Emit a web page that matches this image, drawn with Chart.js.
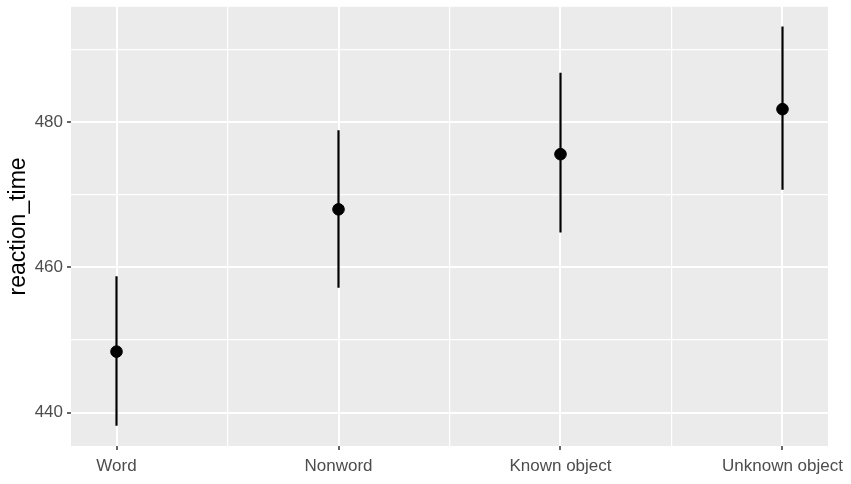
<!DOCTYPE html>
<html>
<head>
<meta charset="utf-8">
<script src="https://cdn.jsdelivr.net/npm/chart.js@4.4.1/dist/chart.umd.min.js"></script>
<style>
  html, body { margin: 0; padding: 0; background: #fff; }
  #wrap { width: 851px; height: 484px; }
</style>
</head>
<body>
<div id="wrap"><canvas id="rtChart" width="851" height="484"></canvas></div>
<script>
// data
const categories = ['Word', 'Nonword', 'Known object', 'Unknown object'];
const meanRT = [448.4, 468.0, 475.6, 481.8];
const lowerRT = [438.2, 457.2, 464.8, 470.7];
const upperRT = [458.8, 478.9, 486.8, 493.2];
const yTicks = [440, 450, 460, 470, 480, 490];
const yLabelled = [440, 460, 480];

const fontFam = "Arial, 'Liberation Sans', sans-serif";

// grey ggplot panel
const panelBg = {
    id: 'panelBg',
    beforeDraw(chart) {
        const a = chart.chartArea;
        const c = chart.ctx;
        c.save();
        c.fillStyle = '#EBEBEB';
        c.fillRect(a.left, a.top, a.right - a.left, a.bottom - a.top);
        c.restore();
    }
};

// one little line dataset per error bar
let barSets = categories.map((cat, i) => ({
    type: 'line',
    label: cat + ' range',
    data: [{x: i, y: lowerRT[i]}, {x: i, y: upperRT[i]}],
    borderColor: '#000',
    borderWidth: 2.2,
    pointRadius: 0,
    order: 2
}));

let pointSet = {
    type: 'scatter',
    label: 'mean',
    data: categories.map((cat, i) => ({x: i, y: meanRT[i]})),
    backgroundColor: '#000',
    borderColor: '#000',
    pointRadius: 5.8,
    order: 1
};

let ctx = document.getElementById('rtChart').getContext('2d');
let rtChart = new Chart(ctx, {
    type: 'scatter',
    data: { datasets: [pointSet, ...barSets] },
    plugins: [panelBg],
    options: {
        responsive: false,
        animation: false,
        layout: { padding: { left: 0, top: 6, right: 23, bottom: 0 } },
        plugins: {
            legend: { display: false },
            tooltip: { enabled: false }
        },
        scales: {
            x: {
                type: 'linear',
                min: -0.205,
                max: 3.205,
                afterBuildTicks: (s) => {
                    s.ticks = [0, 0.5, 1, 1.5, 2, 2.5, 3].map(v => ({value: v}));
                },
                afterFit: (s) => { s.height = 38; },
                border: { display: false },
                grid: {
                    color: '#FFFFFF',
                    lineWidth: (c) => (c.tick && Number.isInteger(c.tick.value)) ? 2 : 1.2,
                    tickColor: (c) => (c.tick && Number.isInteger(c.tick.value)) ? '#333333' : 'rgba(0,0,0,0)',
                    tickLength: 4,
                    tickWidth: 1.5
                },
                ticks: {
                    autoSkip: false,
                    maxRotation: 0,
                    padding: 6,
                    color: '#4D4D4D',
                    font: { family: fontFam, size: 17 },
                    callback: (v) => Number.isInteger(v) ? categories[v] : ''
                }
            },
            y: {
                type: 'linear',
                min: 435.4,
                max: 495.9,
                afterBuildTicks: (s) => {
                    s.ticks = yTicks.map(v => ({value: v}));
                },
                afterFit: (s) => {
                    s.width = 71;
                    s.paddingTop = 0;
                    s.paddingBottom = 0;
                },
                border: { display: false },
                grid: {
                    color: '#FFFFFF',
                    lineWidth: (c) => (c.tick && yLabelled.includes(c.tick.value)) ? 2 : 1.2,
                    tickColor: (c) => (c.tick && yLabelled.includes(c.tick.value)) ? '#333333' : 'rgba(0,0,0,0)',
                    tickLength: 4,
                    tickWidth: 1.5
                },
                ticks: {
                    padding: 4,
                    color: '#4D4D4D',
                    font: { family: fontFam, size: 17 },
                    callback: (v) => yLabelled.includes(v) ? String(v) : ''
                },
                title: {
                    display: true,
                    text: 'reaction_time',
                    color: '#000',
                    padding: { top: 5, bottom: 0 },
                    font: { family: fontFam, size: 23 }
                }
            }
        }
    }
});
</script>
</body>
</html>
